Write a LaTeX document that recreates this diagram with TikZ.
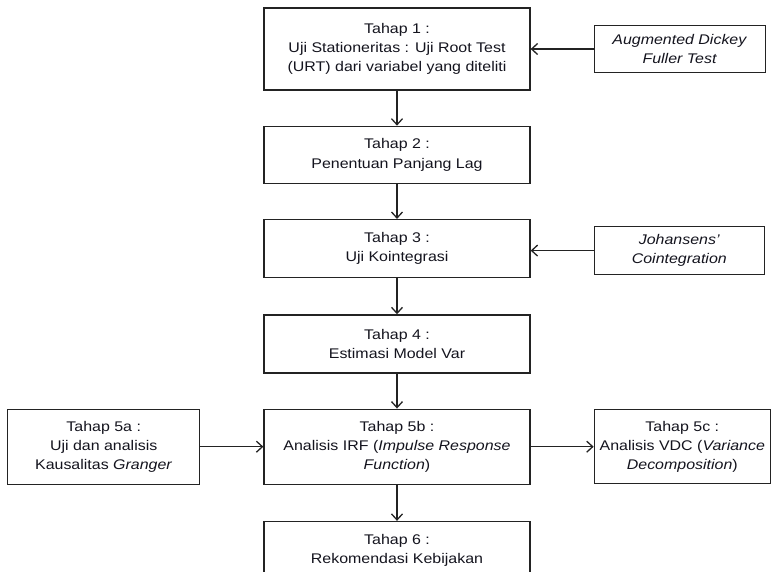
\documentclass[tikz,border=0pt]{standalone}
\usepackage{fontspec}
\setmainfont{Liberation Sans}[FakeStretch=1.14]
\usetikzlibrary{arrows.meta,positioning}
\definecolor{inkBlack}{RGB}{20, 20, 30}
\definecolor{inkRule}{RGB}{35, 35, 35}

\begin{document}
\begin{tikzpicture}[x=1pt, y=-1pt,
    stagebox/.style={draw=inkRule, line width=1.3pt, fill=white, align=center,
        text=inkBlack, inner sep=2pt, minimum width=266pt,
        font=\fontsize{14pt}{19.3pt}\selectfont},
    toolbox/.style={stagebox, minimum width=171pt, minimum height=47pt},
    flow/.style={draw=inkRule, line width=1.3pt, -{Straight Barb[length=6pt,width=11pt]}}]
    \path[use as bounding box, clip] (0,0) rectangle (777,572);

    % main column
    \node[stagebox, minimum height=82pt] (t1) at (397,49) {Tahap 1 :\\Uji Stationeritas : Uji Root Test\\(URT) dari variabel yang diteliti};
    \node[stagebox, minimum height=57pt, below=35pt of t1] (t2) {Tahap 2 :\\Penentuan Panjang Lag};
    \node[stagebox, minimum height=58pt, below=35pt of t2] (t3) {Tahap 3 :\\Uji Kointegrasi};
    \node[stagebox, minimum height=58pt, below=36pt of t3] (t4) {Tahap 4 :\\Estimasi Model Var};
    \node[stagebox, minimum height=75pt, below=35pt of t4] (t5b) {Tahap 5b :\\Analisis IRF (\textit{Impulse Response}\\\textit{Function})};
    \node[stagebox, minimum height=58pt, below=36pt of t5b] (t6) {Tahap 6 :\\Rekomendasi Kebijakan};

    % side boxes
    \node[toolbox, right=63pt of t1] (adf) {\textit{Augmented Dickey}\\\textit{Fuller Test}};
    \node[toolbox, minimum width=170pt, minimum height=48pt, right=63pt of t3, yshift=-2pt] (joh) {\textit{Johansens’}\\\textit{Cointegration}};
    \node[stagebox, minimum width=192pt, minimum height=75pt, left=63pt of t5b] (t5a) {Tahap 5a :\\Uji dan analisis\\Kausalitas \textit{Granger}};
    \node[stagebox, minimum width=176pt, minimum height=74pt, right=63pt of t5b] (t5c) {Tahap 5c :\\Analisis VDC (\textit{Variance}\\\textit{Decomposition})};

    \foreach \a/\b in {t1/t2,t2/t3,t3/t4,t4/t5b,t5b/t6}
        \draw[flow] (\a) -- (\b);
    \draw[flow] (adf) -- (adf -| t1.east);
    \draw[flow] (joh) -- (joh -| t3.east);
    \draw[flow] (t5a) -- (t5b);
    \draw[flow] (t5b) -- (t5c);
\end{tikzpicture}
\end{document}
